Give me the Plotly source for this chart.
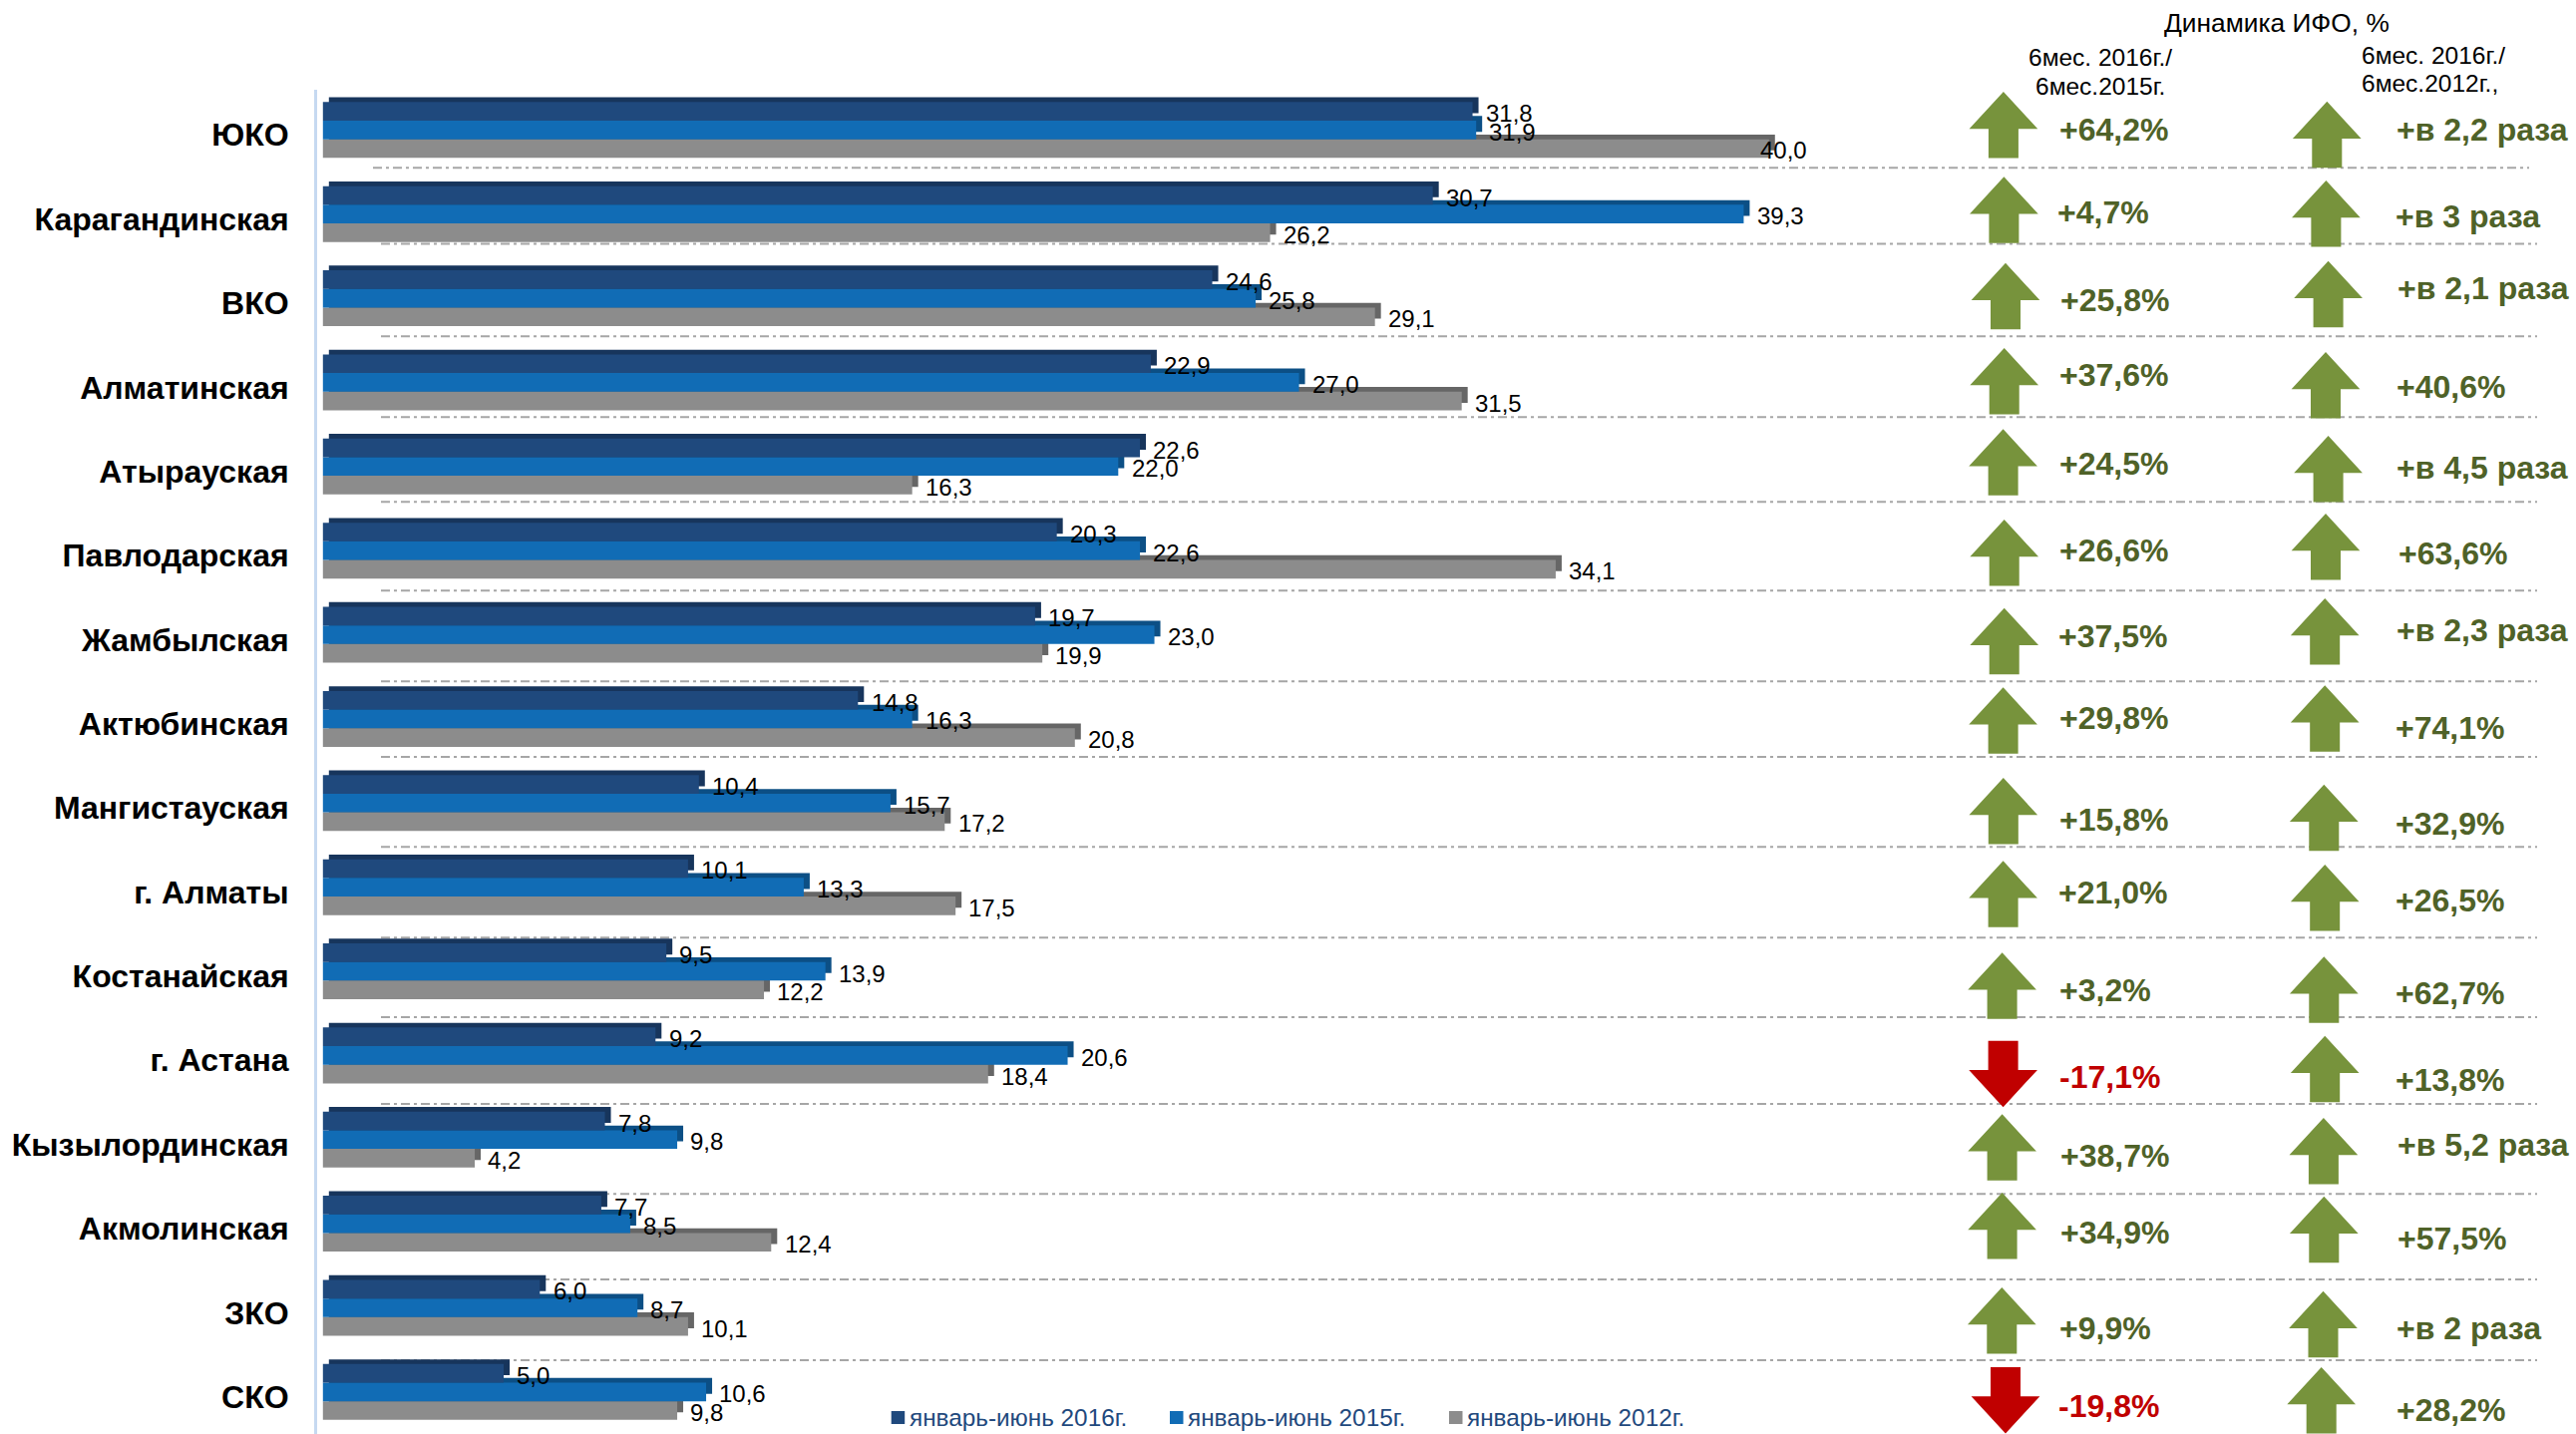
import plotly.graph_objects as go

regions = ["ЮКО", "Карагандинская", "ВКО", "Алматинская", "Атырауская", "Павлодарская", "Жамбылская",
           "Актюбинская", "Мангистауская", "г. Алматы", "Костанайская", "г. Астана", "Кызылординская",
           "Акмолинская", "ЗКО", "СКО"]
values_2016 = [31.8, 30.7, 24.6, 22.9, 22.6, 20.3, 19.7, 14.8, 10.4, 10.1, 9.5, 9.2, 7.8, 7.7, 6.0, 5.0]
values_2015 = [31.9, 39.3, 25.8, 27.0, 22.0, 22.6, 23.0, 16.3, 15.7, 13.3, 13.9, 20.6, 9.8, 8.5, 8.7, 10.6]
values_2012 = [40.0, 26.2, 29.1, 31.5, 16.3, 34.1, 19.9, 20.8, 17.2, 17.5, 12.2, 18.4, 4.2, 12.4, 10.1, 9.8]
series_names = ["январь-июнь 2016г.", "январь-июнь 2015г.", "январь-июнь 2012г."]
growth_vs_2015 = ["+64,2%", "+4,7%", "+25,8%", "+37,6%", "+24,5%", "+26,6%", "+37,5%", "+29,8%", "+15,8%",
                  "+21,0%", "+3,2%", "-17,1%", "+38,7%", "+34,9%", "+9,9%", "-19,8%"]
growth_vs_2012 = ["+в 2,2 раза", "+в 3 раза", "+в 2,1 раза", "+40,6%", "+в 4,5 раза", "+63,6%", "+в 2,3 раза",
                  "+74,1%", "+32,9%", "+26,5%", "+62,7%", "+13,8%", "+в 5,2 раза", "+57,5%", "+в 2 раза", "+28,2%"]

# ---- layout constants (pixels of the 2583x1438 page) ----
W, H = 2583, 1438
PX_PER_UNIT = 36.25
BAR_X0 = 323.8
AXIS_X = 318.0
ROW = 84.37
ROW0_CY = 135.2
TOP = 90.3
FACE_H = 18.67
FIRST_FACE = -32.9
BEVEL = 4.7
SIDE = 6.0 / PX_PER_UNIT


def fx(px):
    return px / W


def fy(py):
    return 1 - py / H


faces = ["#1f497d", "#116cb5", "#8c8c8c"]
sides = ["#17355c", "#0c4f85", "#666666"]
series = [values_2016, values_2015, values_2012]

fig = go.Figure()
for k in [2, 1, 0]:
    off = (FIRST_FACE + k * FACE_H) / ROW
    fig.add_trace(go.Bar(y=regions, x=series[k], base=SIDE, orientation="h", offset=off - BEVEL / ROW,
                         width=(FACE_H * 0.85) / ROW, marker=dict(color=sides[k], line_width=0),
                         showlegend=False, hoverinfo="skip"))
    fig.add_trace(go.Bar(y=regions, x=series[k], orientation="h", offset=off, width=FACE_H / ROW,
                         name=series_names[k], showlegend=False, marker=dict(color=faces[k], line_width=0)))

annotations = []
label_dx = {(0, 2): -22}
for k in range(3):
    for i, v in enumerate(series[k]):
        annotations.append(dict(
            x=v, y=regions[i], xref="x", yref="y", text=f"{v:.1f}".replace(".", ","), showarrow=False,
            xanchor="left", yanchor="middle", xshift=11.2 + label_dx.get((i, k), 0),
            yshift=-(FIRST_FACE + (k + 0.5) * FACE_H + 2),
            font=dict(family="Liberation Sans", size=24, color="#000000")))

shapes = []
sep_y = [168.3, 244.5, 337.3, 418.3, 503.3, 592.3, 683.3, 759, 849.3, 940.3, 1020, 1107, 1197.3, 1283, 1364]
for j, y in enumerate(sep_y):
    x0, x1 = (374, 2536) if j == 0 else (382, 2544)
    shapes.append(dict(type="line", xref="paper", yref="paper", x0=fx(x0), x1=fx(x1), y0=fy(y), y1=fy(y),
                       layer="below", line=dict(color="#a6a6a6", width=2, dash="9px,4px,3px,4px")))

AW, SW, AH, HH = 68.7, 30.0, 66.5, 37.3


def arrow(cx, top, up, color):
    if up:
        pts = [(cx, top), (cx + AW / 2, top + HH), (cx + SW / 2, top + HH), (cx + SW / 2, top + AH),
               (cx - SW / 2, top + AH), (cx - SW / 2, top + HH), (cx - AW / 2, top + HH)]
    else:
        b = top + AH
        pts = [(cx, b), (cx + AW / 2, b - HH), (cx + SW / 2, b - HH), (cx + SW / 2, top),
               (cx - SW / 2, top), (cx - SW / 2, b - HH), (cx - AW / 2, b - HH)]
    path = "M " + " L ".join(f"{fx(a):.5f},{fy(b_):.5f}" for a, b_ in pts) + " Z"
    return dict(type="path", xref="paper", yref="paper", path=path, fillcolor=color, line=dict(width=0))


left_cx = [2008.9, 2009.4, 2011, 2009.7, 2008.6, 2009.7, 2009.7, 2008.6, 2008.8, 2008.6, 2007.6, 2008.6, 2007.6, 2007.6, 2007.3, 2011]
left_top = [92, 177.3, 263.7, 349, 430.3, 521, 609.7, 689.3, 780, 863.3, 955.3, 1043.7, 1117.3, 1196, 1291, 1371]
right_cx = [2333.3, 2332.4, 2334.6, 2332, 2334.6, 2332, 2331.2, 2331.2, 2330.3, 2331.2, 2330.3, 2331.2, 2329.9, 2330.3, 2329.5, 2327.7]
right_top = [101.7, 181, 261.7, 353, 437, 515, 600, 687.3, 786.7, 867, 959.3, 1038.7, 1121, 1199.7, 1294.7, 1371]
left_tx = [2062.5, 2060.7, 2063.8, 2062.5, 2062.5, 2062.5, 2061.6, 2062.5, 2063.4, 2061.6, 2063.4, 2062.5, 2064.3, 2064.3, 2062.5, 2061.6]
left_ty = [130, 213, 301, 376, 465, 551.7, 637.7, 720, 821.7, 895, 992.7, 1080, 1159.3, 1235.7, 1331.7, 1410]
right_tx = [2401, 2400.1, 2402.2, 2401, 2401, 2403.1, 2400.6, 2399.7, 2400.1, 2400.1, 2400.1, 2400.1, 2402.2, 2402.2, 2401, 2401]
right_ty = [130, 216.7, 289.3, 387.7, 469.3, 555, 631.7, 730, 826, 903.3, 996, 1083.3, 1148.3, 1242.3, 1331.7, 1414.3]

for i in range(16):
    up = not growth_vs_2015[i].startswith("-")
    shapes.append(arrow(left_cx[i], left_top[i], up, "#77933c" if up else "#c00000"))
    shapes.append(arrow(right_cx[i], right_top[i], True, "#77933c"))
    annotations.append(dict(x=fx(left_tx[i]), y=fy(left_ty[i]), xref="paper", yref="paper", text=growth_vs_2015[i],
                            showarrow=False, xanchor="left", yanchor="middle",
                            font=dict(family="Liberation Sans", size=32, weight="bold",
                                      color="#4f6228" if up else "#c00000")))
    annotations.append(dict(x=fx(right_tx[i]), y=fy(right_ty[i]), xref="paper", yref="paper", text=growth_vs_2012[i],
                            showarrow=False, xanchor="left", yanchor="middle",
                            font=dict(family="Liberation Sans", size=32, weight="bold", color="#4f6228")))

headers = [("Динамика ИФО, %", 2283, 23, "center", 26.3),
           ("6мес. 2016г./", 2106, 58, "center", 24.5),
           ("6мес.2015г.", 2106, 86.5, "center", 24.5),
           ("6мес. 2016г./", 2366, 56, "left", 24.5),
           ("6мес.2012г.,", 2366, 84, "left", 24.5)]
for t, x, y, anc, size in headers:
    annotations.append(dict(x=fx(x), y=fy(y), xref="paper", yref="paper", text=t, showarrow=False,
                            xanchor=anc, yanchor="middle",
                            font=dict(family="Liberation Sans", size=size, color="#000000")))

# hand-placed legend: a native one would spill below the page at this position
legend_sq_x = [893.7, 1173, 1453]
legend_tx = [909.5, 1189, 1469]
for k in range(3):
    shapes.append(dict(type="rect", xref="paper", yref="paper", x0=fx(legend_sq_x[k]), x1=fx(legend_sq_x[k] + 13.5),
                       y0=fy(1415), y1=fy(1428), fillcolor=faces[k], line=dict(width=0)))
    annotations.append(dict(x=fx(legend_tx[k]), y=fy(1421.5), xref="paper", yref="paper", text=series_names[k],
                            showarrow=False, xanchor="left", yanchor="middle",
                            font=dict(family="Liberation Sans", size=24.3, color="#1f497d")))

fig.update_layout(
    width=W, height=H, margin=dict(l=0, r=0, t=0, b=0), paper_bgcolor="white", plot_bgcolor="white",
    barmode="overlay", annotations=annotations, shapes=shapes, showlegend=False,
    font=dict(family="Liberation Sans"),
    xaxis=dict(domain=[AXIS_X / W, 1], range=[-(BAR_X0 - AXIS_X) / PX_PER_UNIT, (W - BAR_X0) / PX_PER_UNIT],
               visible=False, fixedrange=True),
    yaxis=dict(domain=[0, 1 - TOP / H], type="category", categoryorder="array", categoryarray=regions,
               range=[(H - ROW0_CY) / ROW, -(ROW0_CY - TOP) / ROW], showgrid=False, zeroline=False,
               showline=True, linecolor="#c6d9f1", linewidth=3, ticks="", ticklabelstandoff=19,
               tickfont=dict(family="Liberation Sans", size=32, weight="bold", color="#000000"),
               fixedrange=True),
)
fig.write_html("out.html", config={"displayModeBar": False},
               post_script="document.documentElement.style.overflow='hidden';"
                           "document.body.style.margin='0';document.body.style.overflow='hidden';")
